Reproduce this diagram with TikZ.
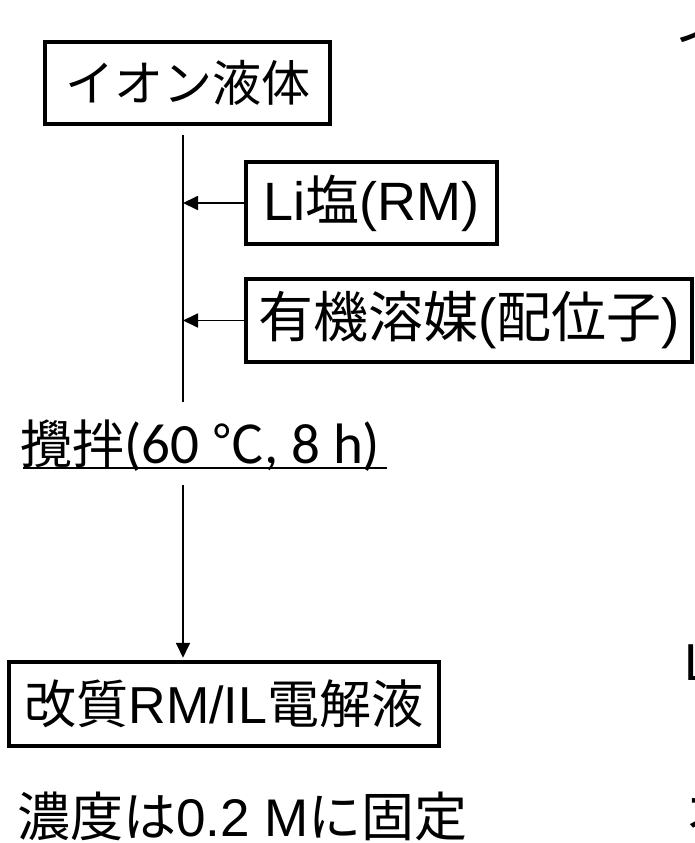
\documentclass[tikz,border=0pt]{standalone}
\usepackage{fontspec}
\setmainfont{Liberation Sans}
\newfontfamily\jp{Noto Sans CJK JP}
\newfontfamily\calf{Carlito}
\usetikzlibrary{arrows.meta}
\tikzset{
  boxnode/.style={draw, line width=4.5pt, inner sep=0pt, align=center},
  conn/.style={line width=1.8pt},
  arr/.style={conn, -{Triangle[length=15pt,width=14pt]}},
  big/.style={font=\fontsize{56}{60}\selectfont},
}
\begin{document}
\begin{tikzpicture}[x=1pt,y=-1pt]
\clip (0,0) rectangle (695,843);
\useasboundingbox (0,0) rectangle (695,843);
\fill[white] (0,0) rectangle (695,843);

% boxes
\node[boxnode, minimum width=285pt, minimum height=82pt,
      font=\fontsize{49}{54}\selectfont\jp] (ion) at (187.5,83) {イオン液体};
\node[boxnode, minimum width=251pt, minimum height=82pt,
      font=\fontsize{54}{58}\selectfont] (li) at (371.5,203)
      {Li{\jp 塩}(RM)};
\node[boxnode, minimum width=446pt, minimum height=83pt,
      font=\fontsize{55}{60}\selectfont] (org) at (469,320.5)
      {{\jp 有機溶媒}({\jp 配位子})};
\node[boxnode, minimum width=430pt, minimum height=84pt,
      font=\fontsize{52}{56}\selectfont] (prod) at (224,704)
      {{\jp 改質}RM/IL{\jp 電解液}};

% stirring label
\node[anchor=base west, inner sep=0pt] (stir) at (20,463)
      {{\fontsize{52}{56}\selectfont\jp 攪拌}{\fontsize{57}{60}\selectfont\calf (60 }{\fontsize{52}{56}\selectfont\jp ℃}{\fontsize{57}{60}\selectfont\calf , 8 h)}};
\coordinate (ulA) at (23,468);
\coordinate (ulB) at (387,468);
\draw[line width=2pt] (ulA) -- (ulB);

% note
\node[anchor=base west, inner sep=0pt, font=\fontsize{53}{56}\selectfont] (note) at (17,836)
      {{\jp 濃度は}0.2 M{\jp に固定}};

% cut-off text at the right edge
\node[anchor=base west, inner sep=0pt, big] (cutA) at (675.5,59) {\jp イ};
\node[anchor=base west, inner sep=0pt, font=\fontsize{52}{56}\selectfont] (cutB) at (684,680) {L};
\node[anchor=base west, inner sep=0pt, big] (cutC) at (685,832) {\jp オ};

% connectors
\coordinate (t1) at (183,135);
\coordinate (t2) at (183,402);
\coordinate (t3) at (183,485);
\draw[conn] (t1) -- (t2);
\draw[arr] (li.west) -- (li.west -| t1);
\draw[arr] (org.west) -- (org.west -| t1);
\draw[arr] (t3) -- (prod.north -| t3) [shorten >=2pt];
\end{tikzpicture}
\end{document}
